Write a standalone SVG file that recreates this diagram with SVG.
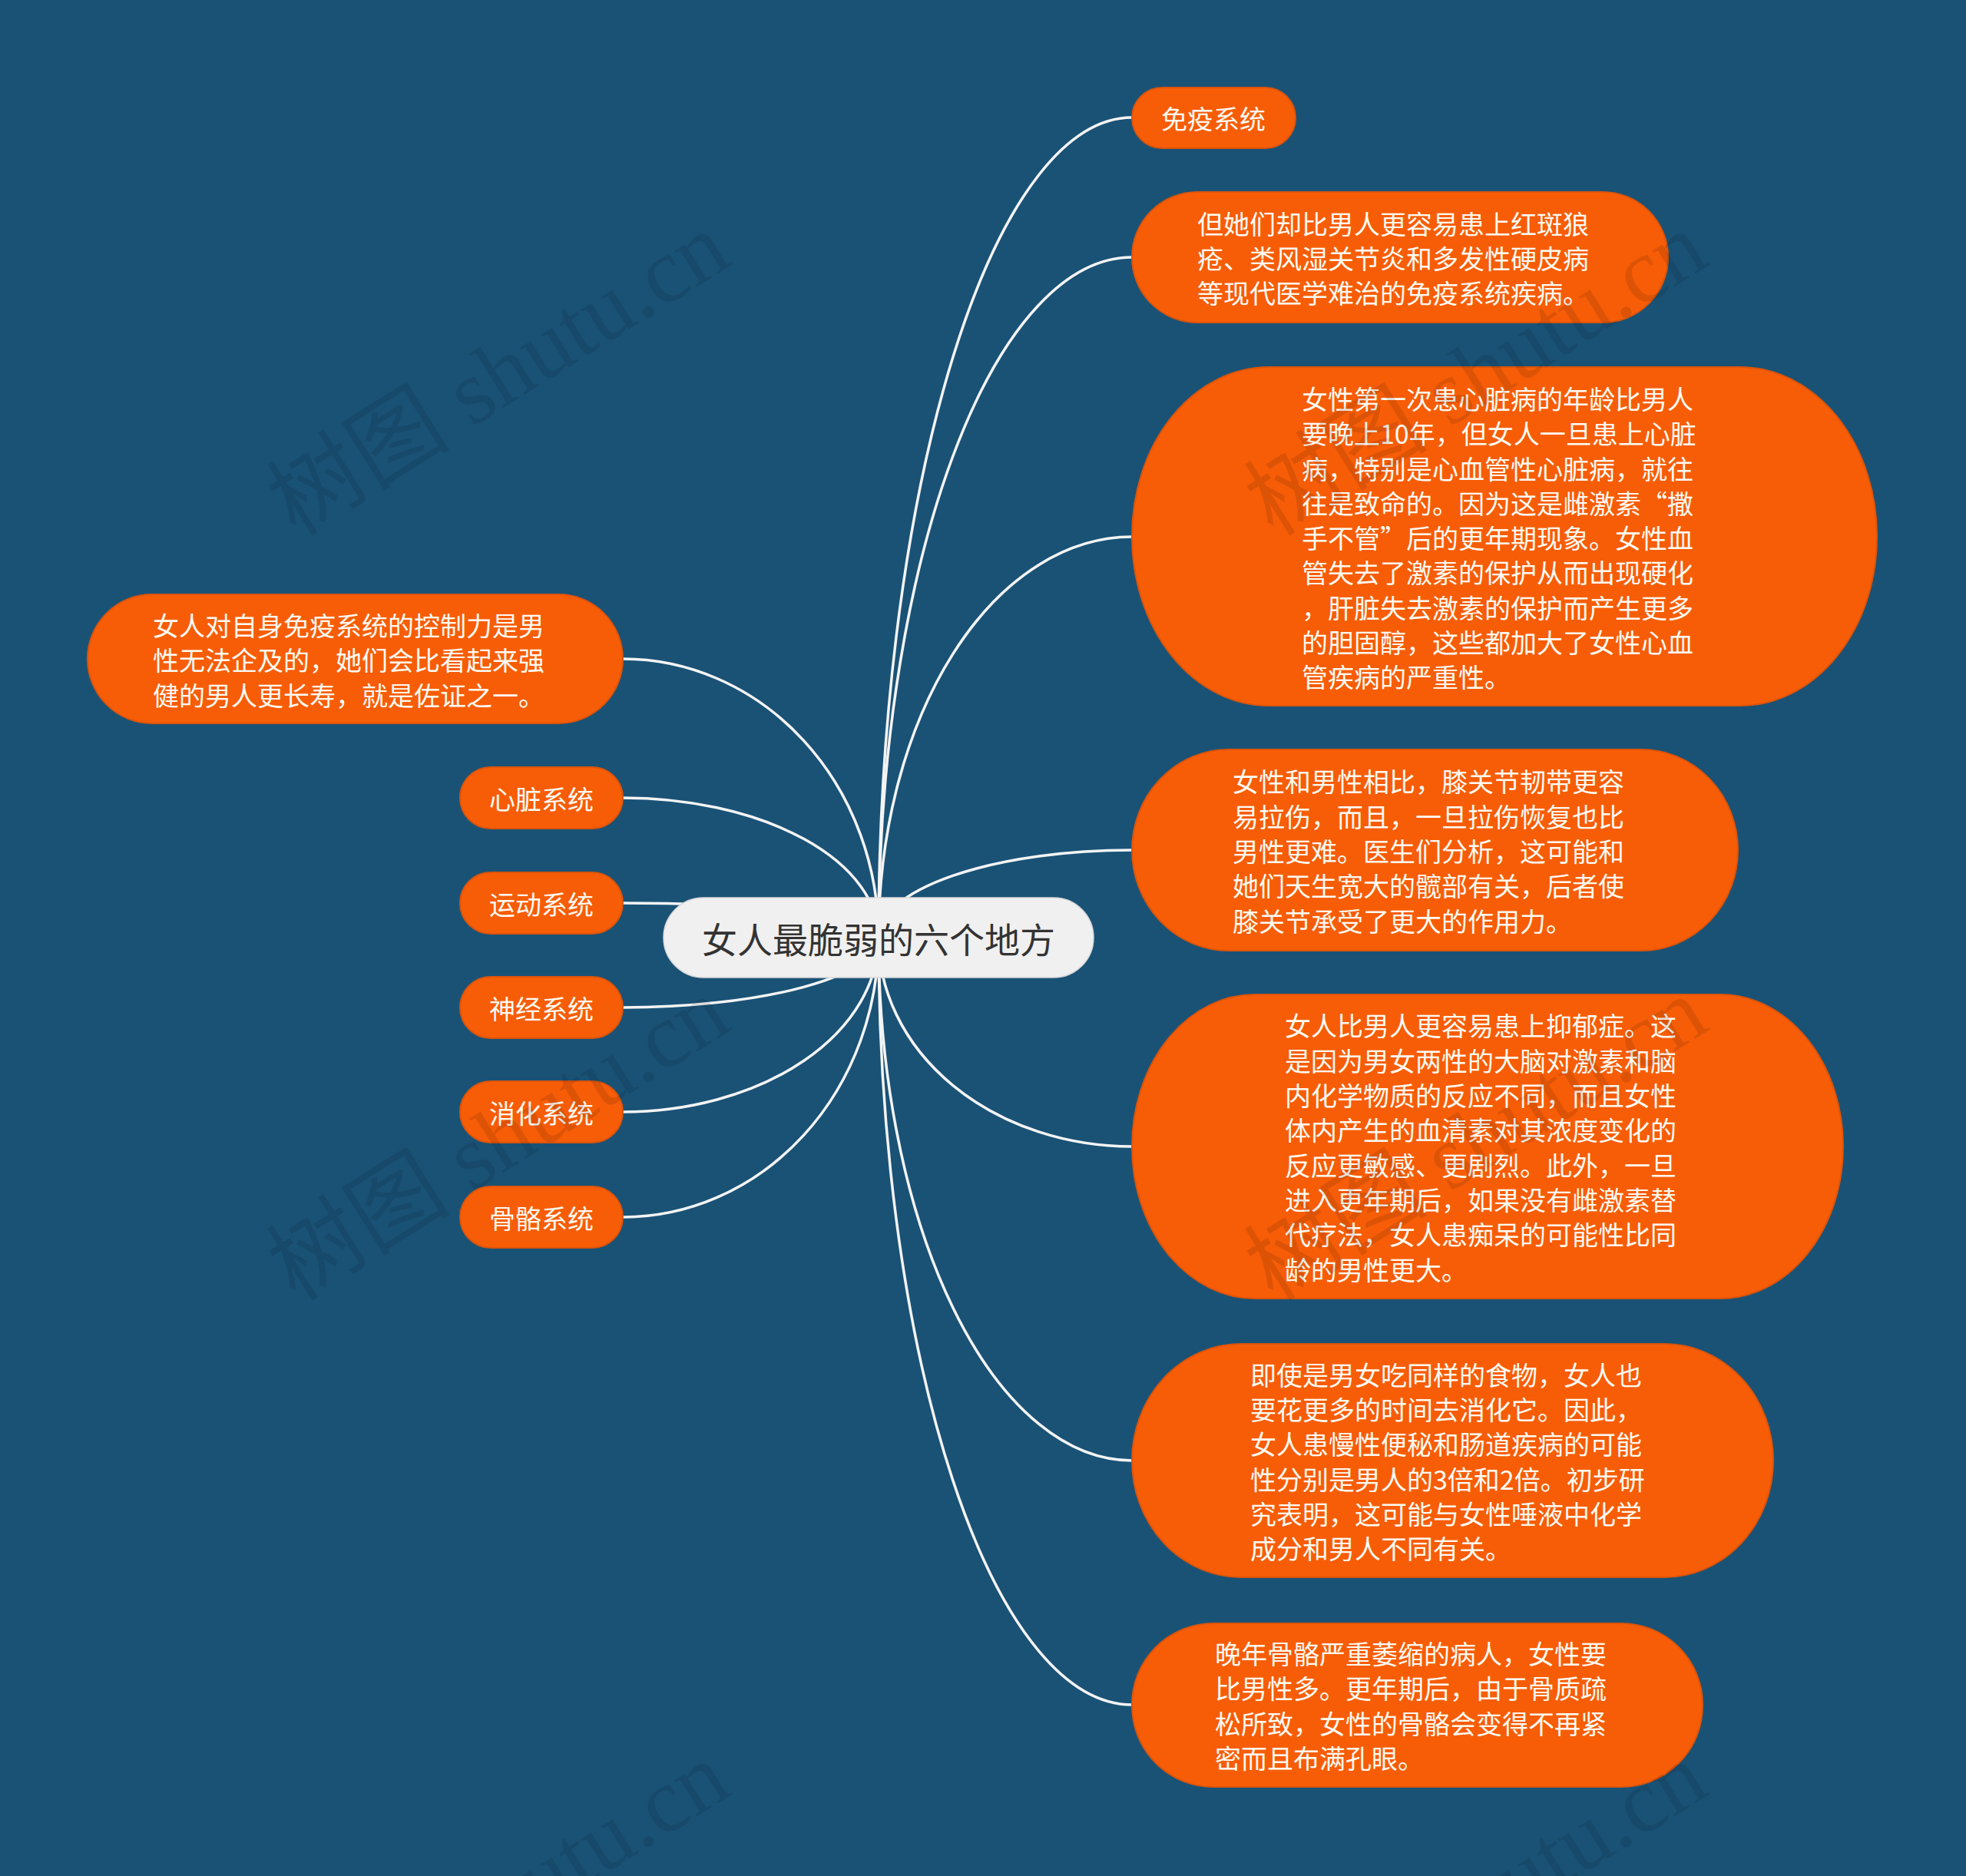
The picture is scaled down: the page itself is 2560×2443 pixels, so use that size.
<svg xmlns="http://www.w3.org/2000/svg" width="2560" height="2443" viewBox="0 0 2560 2443">
<style>
.bg{fill:#1a5276}
.leaf{fill:#f75d07;stroke:#dc5409;stroke-width:2}
.root{fill:#f0f0f0;stroke:#d8d8d8;stroke-width:1.5}
.t{font-family:"Noto Sans CJK SC","Noto Sans",sans-serif;font-size:34px;fill:#fffaf2;dominant-baseline:central}
.rt{font-family:"Noto Sans CJK SC","Noto Sans",sans-serif;font-size:46px;fill:#333333;dominant-baseline:central;text-anchor:middle}
.link{fill:none;stroke:#f4f4f4;stroke-width:3.5}
.wm{font-family:"Liberation Serif","Noto Sans CJK SC",serif;font-size:120px;fill:#000000;fill-opacity:0.1}
</style>
<rect class="bg" x="0" y="0" width="2560" height="2443"/>
<g id="connectors">
<path class="link" d="M1144 1221 A330 1068 0 0 1 1474 153"/>
<path class="link" d="M1144 1221 A330 886 0 0 1 1474 335"/>
<path class="link" d="M1144 1221 A330 522 0 0 1 1474 699"/>
<path class="link" d="M1144 1221 A330 114 0 0 1 1474 1107"/>
<path class="link" d="M1144 1221 A330 272 0 0 0 1474 1493"/>
<path class="link" d="M1144 1221 A330 681 0 0 0 1474 1902"/>
<path class="link" d="M1144 1221 A330 999 0 0 0 1474 2220"/>
<path class="link" d="M1144 1221 A333 363 0 0 0 811 858"/>
<path class="link" d="M1144 1221 A333 182 0 0 0 811 1039"/>
<path class="link" d="M1144 1221 A333 45 0 0 0 811 1176"/>
<path class="link" d="M1144 1221 A333 91 0 0 1 811 1312"/>
<path class="link" d="M1144 1221 A333 227 0 0 1 811 1448"/>
<path class="link" d="M1144 1221 A333 364 0 0 1 811 1585"/>
</g>
<g id="root">
<rect class="root" x="864" y="1169" width="560" height="104" rx="52" ry="52"/>
<text class="rt" x="1144" y="1221">女人最脆弱的六个地方</text>
</g>
<g id="n1">
<rect class="leaf" x="1474" y="114" width="213" height="79" rx="39.5" ry="39.5"/>
<text class="t" x="1512" y="153">免疫系统</text>
</g>
<g id="n2">
<rect class="leaf" x="1474" y="250" width="698" height="170" rx="85" ry="85"/>
<text class="t" x="1559"><tspan x="1559" y="290">但她们却比男人更容易患上红斑狼</tspan><tspan x="1559" y="335">疮、类风湿关节炎和多发性硬皮病</tspan><tspan x="1559" y="380">等现代医学难治的免疫系统疾病。</tspan></text>
</g>
<g id="n3">
<rect class="leaf" x="1474" y="478" width="970" height="441" rx="178" ry="220"/>
<text class="t" x="1695"><tspan x="1695" y="518">女性第一次患心脏病的年龄比男人</tspan><tspan x="1695" y="563">要晚上10年，但女人一旦患上心脏</tspan><tspan x="1695" y="609">病，特别是心血管性心脏病，就往</tspan><tspan x="1695" y="654">往是致命的。因为这是雌激素“撒</tspan><tspan x="1695" y="699">手不管”后的更年期现象。女性血</tspan><tspan x="1695" y="744">管失去了激素的保护从而出现硬化</tspan><tspan x="1695" y="790">，肝脏失去激素的保护而产生更多</tspan><tspan x="1695" y="835">的胆固醇，这些都加大了女性心血</tspan><tspan x="1695" y="880">管疾病的严重性。</tspan></text>
</g>
<g id="n4">
<rect class="leaf" x="1474" y="976" width="789" height="262" rx="126" ry="131"/>
<text class="t" x="1605"><tspan x="1605" y="1016">女性和男性相比，膝关节韧带更容</tspan><tspan x="1605" y="1062">易拉伤，而且，一旦拉伤恢复也比</tspan><tspan x="1605" y="1107">男性更难。医生们分析，这可能和</tspan><tspan x="1605" y="1152">她们天生宽大的髋部有关，后者使</tspan><tspan x="1605" y="1198">膝关节承受了更大的作用力。</tspan></text>
</g>
<g id="n5">
<rect class="leaf" x="1474" y="1295" width="926" height="396" rx="160" ry="198"/>
<text class="t" x="1673"><tspan x="1673" y="1334">女人比男人更容易患上抑郁症。这</tspan><tspan x="1673" y="1380">是因为男女两性的大脑对激素和脑</tspan><tspan x="1673" y="1425">内化学物质的反应不同，而且女性</tspan><tspan x="1673" y="1470">体内产生的血清素对其浓度变化的</tspan><tspan x="1673" y="1516">反应更敏感、更剧烈。此外，一旦</tspan><tspan x="1673" y="1561">进入更年期后，如果没有雌激素替</tspan><tspan x="1673" y="1606">代疗法，女人患痴呆的可能性比同</tspan><tspan x="1673" y="1652">龄的男性更大。</tspan></text>
</g>
<g id="n6">
<rect class="leaf" x="1474" y="1750" width="835" height="304" rx="142" ry="152"/>
<text class="t" x="1628"><tspan x="1628" y="1789">即使是男女吃同样的食物，女人也</tspan><tspan x="1628" y="1834">要花更多的时间去消化它。因此，</tspan><tspan x="1628" y="1879">女人患慢性便秘和肠道疾病的可能</tspan><tspan x="1628" y="1925">性分别是男人的3倍和2倍。初步研</tspan><tspan x="1628" y="1970">究表明，这可能与女性唾液中化学</tspan><tspan x="1628" y="2015">成分和男人不同有关。</tspan></text>
</g>
<g id="n7">
<rect class="leaf" x="1474" y="2114" width="743" height="213" rx="106" ry="106"/>
<text class="t" x="1582"><tspan x="1582" y="2152">晚年骨骼严重萎缩的病人，女性要</tspan><tspan x="1582" y="2197">比男性多。更年期后，由于骨质疏</tspan><tspan x="1582" y="2243">松所致，女性的骨骼会变得不再紧</tspan><tspan x="1582" y="2288">密而且布满孔眼。</tspan></text>
</g>
<g id="n8">
<rect class="leaf" x="114" y="774" width="697" height="168" rx="84" ry="84"/>
<text class="t" x="199"><tspan x="199" y="813">女人对自身免疫系统的控制力是男</tspan><tspan x="199" y="858">性无法企及的，她们会比看起来强</tspan><tspan x="199" y="904">健的男人更长寿，就是佐证之一。</tspan></text>
</g>
<g id="n9">
<rect class="leaf" x="599" y="999" width="212" height="80" rx="40" ry="40"/>
<text class="t" x="637" y="1039">心脏系统</text>
</g>
<g id="n10">
<rect class="leaf" x="599" y="1136" width="212" height="80" rx="40" ry="40"/>
<text class="t" x="637" y="1176">运动系统</text>
</g>
<g id="n11">
<rect class="leaf" x="599" y="1272" width="212" height="80" rx="40" ry="40"/>
<text class="t" x="637" y="1312">神经系统</text>
</g>
<g id="n12">
<rect class="leaf" x="599" y="1408" width="212" height="80" rx="40" ry="40"/>
<text class="t" x="637" y="1448">消化系统</text>
</g>
<g id="n13">
<rect class="leaf" x="599" y="1545" width="212" height="80" rx="40" ry="40"/>
<text class="t" x="637" y="1585">骨骼系统</text>
</g>
<g id="watermarks">
<text class="wm" transform="rotate(-32 385 700)" x="385" y="700">树图 shutu.cn</text>
<text class="wm" transform="rotate(-32 1658 700)" x="1658" y="700">树图 shutu.cn</text>
<text class="wm" transform="rotate(-32 385 1696)" x="385" y="1696">树图 shutu.cn</text>
<text class="wm" transform="rotate(-32 1658 1696)" x="1658" y="1696">树图 shutu.cn</text>
<text class="wm" transform="rotate(-32 385 2692)" x="385" y="2692">树图 shutu.cn</text>
<text class="wm" transform="rotate(-32 1658 2692)" x="1658" y="2692">树图 shutu.cn</text>
</g>
</svg>
